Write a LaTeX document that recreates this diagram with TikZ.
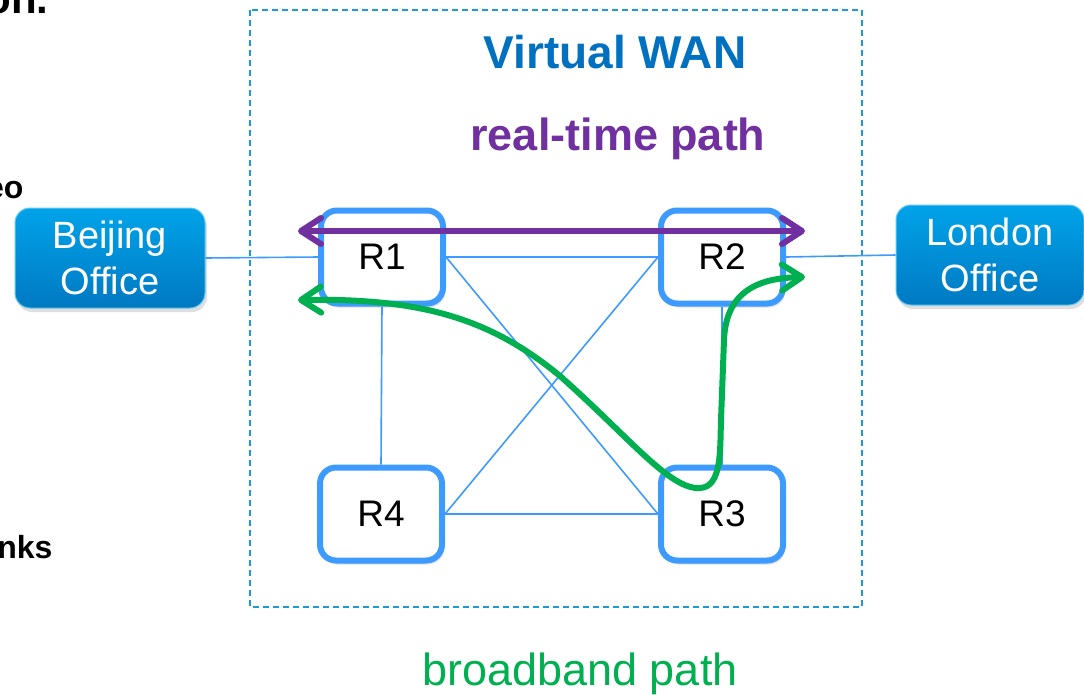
\documentclass[tikz,border=0pt]{standalone}
\usepackage{fontspec}
\setmainfont{Liberation Sans}
\usetikzlibrary{arrows.meta,shadows}
\definecolor{wanblue}{RGB}{0,112,192}
\definecolor{rtpurple}{RGB}{112,48,160}
\definecolor{bbgreen}{RGB}{0,176,80}
\definecolor{linkblue}{RGB}{61,155,255}
\definecolor{dashblue}{RGB}{27,154,214}
\definecolor{offtop}{RGB}{0,163,233}
\definecolor{offbot}{RGB}{0,121,194}
\begin{document}
\begin{tikzpicture}[x=1pt,y=-1pt,
    router/.style={draw=linkblue,line width=6pt,fill=white,rounded corners=16pt,
      minimum width=122pt,minimum height=93pt,inner sep=0pt,
      drop shadow={opacity=0.25,shadow xshift=2pt,shadow yshift=-4pt},
      font=\fontsize{37}{42}\selectfont},
    office/.style={draw=offtop!60!white,line width=1pt,top color=offtop,bottom color=offbot,
      rounded corners=15pt,text=white,align=center,
      minimum width=190pt,minimum height=100pt,inner sep=0pt,
      drop shadow={opacity=0.25,shadow xshift=2pt,shadow yshift=-4pt},
      font=\fontsize{38}{46}\selectfont},
    link/.style={draw=linkblue,line width=1.6pt},
    route/.style={line width=6pt,
      {Straight Barb[length=20pt,width=26pt,round]}-{Straight Barb[length=20pt,width=26pt,round]}},
    slide/.style={font=\fontsize{32}{38}\selectfont\bfseries,anchor=base east}]
    \useasboundingbox (0,0) rectangle (1084,694);
    \draw [dashblue,line width=2pt,dash pattern=on 6pt off 4pt] (250,10) rectangle (862,607);

    \node [slide,font=\fontsize{42}{46}\selectfont\bfseries] (t0) at (52,13) {on.};
    \node [slide] (t1) at (27,198) {eo};
    \node [slide] (t2) at (56,558) {nks};

    \node [office] (bj) at (110,258) {Beijing\\Office};
    \node [office,minimum width=188pt] (ld) at (990,255) {London\\Office};
    \node [router] (r1) at (382,257) {R1};
    \node [router] (r2) at (722,257) {R2};
    \node [router] (r3) at (722,514) {R3};
    \node [router] (r4) at (381,514) {R4};

    \draw [link] (bj.east) -- (r1.west);
    \draw [link] (r1.east) -- (r2.west);
    \draw [link] (r2.east) -- (ld.west);
    \draw [link] (r1.south) -- (r4.north);
    \draw [link] (r2.south) -- (r3.north);
    \draw [link] (r4.east) -- (r3.west);
    \draw [link] (r1.east) -- (r3.west);
    \draw [link] (r2.west) -- (r4.east);

    \node [anchor=base,text=wanblue,font=\fontsize{46}{52}\selectfont\bfseries] (vw) at (615,68) {Virtual WAN};
    \node [anchor=base,text=rtpurple,font=\fontsize{45}{52}\selectfont\bfseries] (rt) at (618,150) {real-time path};
    \node [anchor=base,text=bbgreen,font=\fontsize{45}{52}\selectfont] (bb) at (580,685) {broadband path};

    \coordinate (a1) at (298,231);
    \coordinate (a2) at (805,231);
    \draw [route,rtpurple] (a1) -- (a2);
    \coordinate (b1) at (298,300);
    \coordinate (b2) at (805,277);
    \draw [route,bbgreen] (b1) .. controls (420,298) and (490,318) .. (560,376)
      .. controls (630,438) and (670,490) .. (700,488)
      .. controls (722,487) and (720,450) .. (721,420) -- (724,340)
      .. controls (726,290) and (760,278) .. (b2);
\end{tikzpicture}
\end{document}
